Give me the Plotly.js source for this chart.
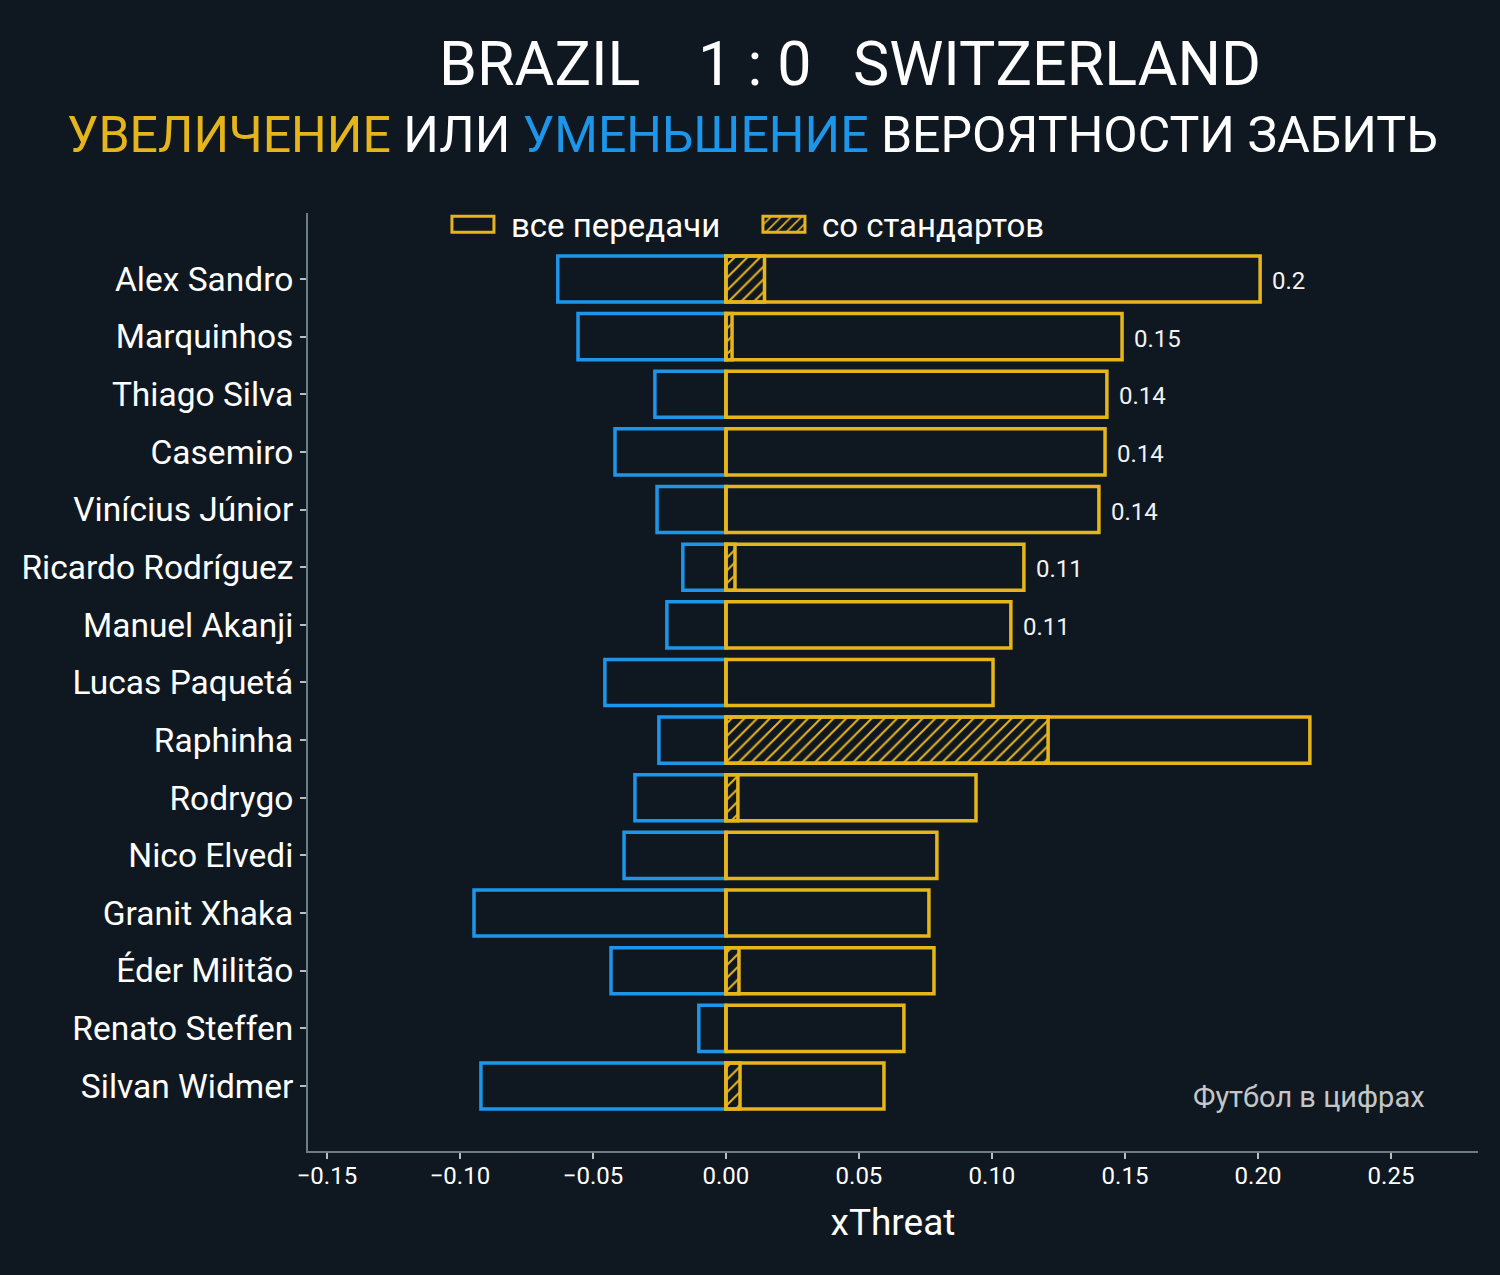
<!DOCTYPE html>
<html>
<head>
<meta charset="utf-8">
<script src="https://cdn.plot.ly/plotly-3.0.1.min.js"></script>
<style>
  html, body { margin: 0; padding: 0; background: #0f1821; }
  #chart { width: 1500px; height: 1275px; }
</style>
</head>
<body>
<div id="chart"></div>
<script>
// ---- data ----
const players = [
  'Alex Sandro', 'Marquinhos', 'Thiago Silva', 'Casemiro', 'Vinícius Júnior',
  'Ricardo Rodríguez', 'Manuel Akanji', 'Lucas Paquetá', 'Raphinha', 'Rodrygo',
  'Nico Elvedi', 'Granit Xhaka', 'Éder Militão', 'Renato Steffen', 'Silvan Widmer'
];
const allPasses = [0.2008, 0.1489, 0.1432, 0.1425, 0.1402, 0.1120, 0.1071, 0.1004, 0.2195, 0.0940, 0.0793, 0.0763, 0.0782, 0.0669, 0.0594];
const setPieces = [0.0145, 0.0023, 0, 0, 0, 0.0034, 0, 0, 0.1211, 0.0045, 0, 0, 0.0049, 0, 0.0053];
const decrease  = [-0.0632, -0.0556, -0.0267, -0.0417, -0.0259, -0.0162, -0.0222, -0.0455, -0.0252, -0.0342, -0.0383, -0.0947, -0.0432, -0.0102, -0.0921];
const valueLabels = ['0.2', '0.15', '0.14', '0.14', '0.14', '0.11', '0.11', '', '', '', '', '', '', '', ''];
const xTickVals  = [-0.15, -0.10, -0.05, 0.00, 0.05, 0.10, 0.15, 0.20, 0.25];
const xTickText  = ['\u22120.15', '\u22120.10', '\u22120.05', '0.00', '0.05', '0.10', '0.15', '0.20', '0.25'];
const legendNames = ['все передачи', 'со стандартов'];
const homeTeam = 'BRAZIL';
const score = '1 : 0';
const awayTeam = 'SWITZERLAND';
const subtitleParts = ['УВЕЛИЧЕНИЕ', 'ИЛИ', 'УМЕНЬШЕНИЕ', 'ВЕРОЯТНОСТИ ЗАБИТЬ'];
const watermark = 'Футбол в цифрах';
const xTitle = 'xThreat';

// ---- style ----
const BG = '#0f1821';
const YEL = '#e6b51c';
const BLUE = '#1d96ea';
const SPINE = '#6e7d82';
const FONT = 'Roboto, "Open Sans", sans-serif';

const traces = [
  {
    type: 'bar', orientation: 'h', y: players, x: decrease,
    width: 0.8, showlegend: false, hoverinfo: 'skip',
    marker: { color: 'rgba(0,0,0,0)', line: { color: BLUE, width: 3.5 } }
  },
  {
    type: 'bar', orientation: 'h', y: players, x: allPasses, name: legendNames[0],
    width: 0.8, hoverinfo: 'skip',
    marker: { color: 'rgba(0,0,0,0)', line: { color: YEL, width: 3.5 } }
  },
  {
    type: 'bar', orientation: 'h', y: players, x: setPieces, name: legendNames[1],
    width: 0.8, hoverinfo: 'skip',
    marker: {
      color: 'rgba(0,0,0,0)', line: { color: YEL, width: 3.5 },
      pattern: { shape: '/', fgcolor: YEL, bgcolor: 'rgba(0,0,0,0)', size: 9, solidity: 0.22 }
    }
  }
];

const annotations = [];
players.forEach((p, i) => {
  if (valueLabels[i]) {
    annotations.push({
      x: allPasses[i], y: p, xref: 'x', yref: 'y', text: valueLabels[i],
      showarrow: false, xanchor: 'left', yanchor: 'middle', xshift: 10, yshift: -2,
      font: { family: FONT, size: 24, color: '#f2f2f2' }
    });
  }
});
const titleFont = { family: FONT, size: 61, color: '#ffffff' };
[[homeTeam, 0.1102], [score, 0.3316], [awayTeam, 0.4641]].forEach(([t, x]) => {
  annotations.push({
    xref: 'paper', yref: 'paper', x: x, y: 1.159, xanchor: 'left', yanchor: 'middle',
    text: t, showarrow: false, font: titleFont
  });
});
annotations.push({
  xref: 'paper', yref: 'paper', x: -0.2077, y: 1.083, xanchor: 'left', yanchor: 'middle',
  text: '<span style="color:' + YEL + '">' + subtitleParts[0] + '</span> ' + subtitleParts[1] +
        ' <span style="color:' + BLUE + '">' + subtitleParts[2] + '</span> ' + subtitleParts[3],
  showarrow: false, font: { family: FONT, size: 50, color: '#ffffff' }
});
annotations.push({
  xref: 'paper', yref: 'paper', x: 0.9564, y: 0.0576, xanchor: 'right', yanchor: 'middle',
  text: watermark, showarrow: false, font: { family: FONT, size: 29, color: '#c4c6c8' }
});

const layout = {
  width: 1500, height: 1275,
  paper_bgcolor: BG, plot_bgcolor: BG,
  margin: { l: 308, r: 22, t: 213, b: 124 },
  barmode: 'overlay',
  font: { family: FONT, color: '#ffffff' },
  showlegend: true,
  legend: {
    orientation: 'h', x: 0.1085, y: 0.988, xanchor: 'left', yanchor: 'middle',
    itemwidth: 66, entrywidth: 230, entrywidthmode: 'pixels',
    bgcolor: 'rgba(0,0,0,0)', font: { family: FONT, size: 33, color: '#ffffff' },
    traceorder: 'normal'
  },
  xaxis: {
    range: [-0.1571, 0.2827], showgrid: false, zeroline: false,
    showline: true, linecolor: SPINE, linewidth: 2,
    ticks: 'outside', ticklen: 6, tickwidth: 2, tickcolor: '#b9c0c3',
    tickvals: xTickVals, ticktext: xTickText, ticklabelstandoff: -4,
    tickfont: { family: FONT, size: 24, color: '#ffffff' },
    title: { text: xTitle, font: { family: FONT, size: 37, color: '#ffffff' }, standoff: 20 }
  },
  yaxis: {
    type: 'category', range: [15.128, -1.145], showgrid: false, zeroline: false,
    showline: true, linecolor: SPINE, linewidth: 2,
    ticks: 'outside', ticklen: 6, tickwidth: 2, tickcolor: '#b9c0c3',
    tickfont: { family: FONT, size: 33.5, color: '#ffffff' }
  },
  annotations: annotations
};

Plotly.newPlot('chart', traces, layout, { staticPlot: true, displayModeBar: false }).then(gd => {
  // widen the legend swatches to match the reference's wide rectangles
  gd.querySelectorAll('.legend .legendpoints path').forEach(p => {
    p.setAttribute('d', 'M21,8H-21V-8H21Z');
    p.style.strokeWidth = '3px';
  });
});
</script>
</body>
</html>
